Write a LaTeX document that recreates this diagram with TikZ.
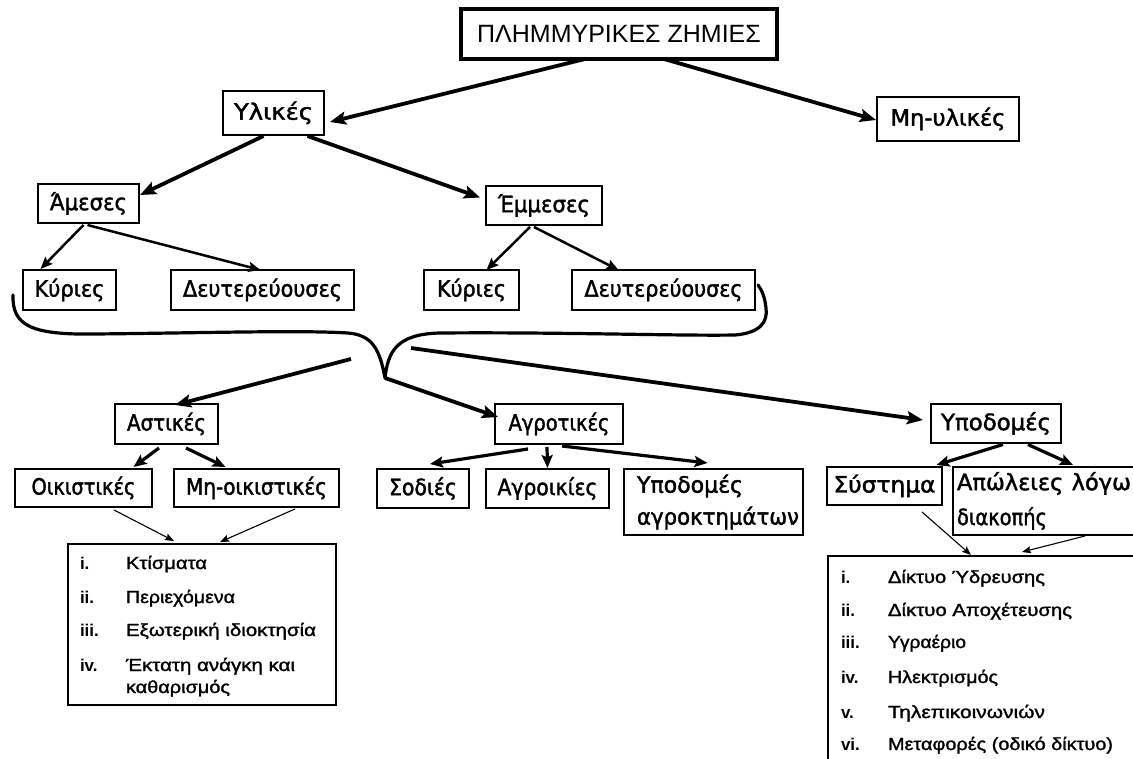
\documentclass[tikz,border=0pt]{standalone}
\usepackage{fontspec}
\usepackage{graphicx}
\setmainfont{Liberation Sans}
\newfontfamily\boxfont[RawFeature={embolden=1.6}]{DejaVu Sans Condensed}
\newfontfamily\listfont[RawFeature={embolden=1.4}]{Liberation Sans}
\usetikzlibrary{arrows.meta,calc}
% stretch a piece of text to a given width, keeping its height
\newcommand\fitw[2]{\resizebox{#1pt}{\height}{#2}}

\begin{document}
\begin{tikzpicture}[x=1pt,y=-1pt,
  every node/.style={inner sep=0pt, outer sep=0pt},
  box/.style={draw, line width=1.4pt, font=\boxfont\fontsize{22.5}{35}\selectfont},
  titlebox/.style={draw, line width=3.6pt, font=\fontsize{25}{30}\selectfont},
  bigarrow/.style={line width=3.8pt, -{Stealth[length=16pt,width=13pt,inset=3pt]}},
  secarrow/.style={line width=3.2pt, -{Stealth[length=13pt,width=11pt,inset=2.5pt]}},
  midarrow/.style={line width=2.5pt, -{Stealth[length=12pt,width=10pt,inset=2pt]}},
  thinarrow/.style={line width=1.1pt, -{Stealth[length=9pt,width=7pt,inset=1.5pt]}},
  bracket/.style={line width=3.2pt, line cap=round, line join=round},
  listbox/.style={draw, line width=1.4pt},
  itemlabel/.style={anchor=base west, font=\bfseries\fontsize{17}{20}\selectfont},
  itemtext/.style={anchor=base west, font=\listfont\fontsize{17.5}{22}\selectfont},
]
\useasboundingbox (0,0) rectangle (1133,759);
\fill[white] (0,0) rectangle (1133,759);
\clip (0,0) rectangle (1133,759);

% ---- hierarchy boxes ----
\node[titlebox, minimum width=316pt, minimum height=50pt] (title) at (619,34) {ΠΛΗΜΜΥΡΙΚΕΣ ΖΗΜΙΕΣ};
\node[box, minimum width=101pt, minimum height=44pt] (ylikes) at (273.5,113) {\fitw{79}{Υλικές}};
\node[box, minimum width=142pt, minimum height=44pt] (mhylikes) at (948,119) {\fitw{115}{Μη-υλικές}};

\node[box, minimum width=101pt, minimum height=39pt] (ames) at (88.5,203.5) {\fitw{77}{Άμεσες}};
\node[box, minimum width=116pt, minimum height=39pt] (emmeses) at (544,205.5) {\fitw{92}{Έμμεσες}};

\node[box, minimum width=93pt, minimum height=40pt] (kyr1) at (69.5,290) {\fitw{70}{Κύριες}};
\node[box, minimum width=183pt, minimum height=40pt] (deut1) at (262.5,290) {\fitw{159}{Δευτερεύουσες}};
\node[box, minimum width=95pt, minimum height=40pt] (kyr2) at (471.5,290) {\fitw{69}{Κύριες}};
\node[box, minimum width=183pt, minimum height=40pt] (deut2) at (663.5,290) {\fitw{158}{Δευτερεύουσες}};

\node[box, minimum width=103pt, minimum height=40pt] (astikes) at (166.5,424) {\fitw{79}{Αστικές}};
\node[box, minimum width=128pt, minimum height=40pt] (agrotikes) at (559,424) {\fitw{101}{Αγροτικές}};
\node[box, minimum width=130pt, minimum height=39pt] (ypodomes) at (996,423.5) {\fitw{110}{Υποδομές}};

\node[box, minimum width=137pt, minimum height=38pt] (oik) at (83.5,488) {\fitw{104}{Οικιστικές}};
\node[box, minimum width=165pt, minimum height=38pt] (mhoik) at (256.5,488) {\fitw{141}{Μη-οικιστικές}};
\node[box, minimum width=92pt, minimum height=39pt] (sodies) at (423,488.5) {\fitw{68}{Σοδιές}};
\node[box, minimum width=123pt, minimum height=39pt] (agroikies) at (547.5,488.5) {\fitw{100}{Αγροικίες}};
\node[box, minimum width=179pt, minimum height=66pt, inner xsep=13pt, text width=153pt, align=left] (ypagr) at (713.5,502) {\fitw{106}{Υποδομές}\\[-3pt]\fitw{162}{αγροκτημάτων}};

\node[box, minimum width=115pt, minimum height=38pt] (systima) at (884.5,486) {\raisebox{5pt}{\fitw{102}{Σύστημα}}};
\node[box, minimum width=197pt, minimum height=68pt, inner xsep=4pt, text width=189pt, align=left] (apoleies) at (1051.5,501) {\fitw{174}{Απώλειες λόγω}\\\fitw{90}{διακοπής}};

% ---- list boxes ----
\node[listbox, minimum width=268pt, minimum height=161pt] (leftlist) at (202,624.5) {};
\node[listbox, minimum width=322pt, minimum height=220pt] (rightlist) at (989,666) {};

\node[itemlabel] (la) at (80,569) {i.};
\node[itemtext]  (ta) at (126,569) {\fitw{81}{Κτίσματα}};
\node[itemlabel] (lb) at (80,603) {ii.};
\node[itemtext]  (tb) at (126,603) {\fitw{109}{Περιεχόμενα}};
\node[itemlabel] (lc) at (80,636) {iii.};
\node[itemtext]  (tc) at (126,636) {\fitw{190}{Εξωτερική ιδιοκτησία}};
\node[itemlabel] (ld) at (80,671) {iv.};
\node[itemtext]  (td) at (126,671) {\fitw{169}{Έκτατη ανάγκη και}};
\node[itemtext]  (tdd) at (126,693) {\fitw{104}{καθαρισμός}};

\node[itemlabel] (ra) at (841,583) {i.};
\node[itemtext]  (sa) at (888,583) {\fitw{157}{Δίκτυο Ύδρευσης}};
\node[itemlabel] (rb) at (841,616) {ii.};
\node[itemtext]  (sb) at (888,616) {\fitw{184}{Δίκτυο Αποχέτευσης}};
\node[itemlabel] (rc) at (841,648) {iii.};
\node[itemtext]  (sc) at (888,648) {\fitw{78}{Υγραέριο}};
\node[itemlabel] (rd) at (841,683) {iv.};
\node[itemtext]  (sd) at (888,683) {\fitw{110}{Ηλεκτρισμός}};
\node[itemlabel] (re) at (841,718) {v.};
\node[itemtext]  (se) at (888,718) {\fitw{157}{Τηλεπικοινωνιών}};
\node[itemlabel] (rf) at (841,750) {vi.};
\node[itemtext]  (sf) at (888,750) {\fitw{225}{Μεταφορές (οδικό δίκτυο)}};

% ---- upper connectors ----
\draw[bigarrow] ($(title.south)+(-34,0)$) -- ($(ylikes.east)+(6,9)$);
\draw[bigarrow] ($(title.south)+(45,0)$) -- ($(mhylikes.west)+(-1,1)$);
\draw[bigarrow] ($(ylikes.south)+(-10,1)$) -- ($(ames.north east)+(1,11)$);
\draw[bigarrow] ($(ylikes.south)+(34,1)$) -- ($(emmeses.west)+(-6,-8)$);

\draw[midarrow] ($(ames.south)+(-5,2)$) -- ($(kyr1.north)+(-29,-1)$);
\draw[midarrow] ($(ames.south)+(-1,2)$) -- ($(deut1.north)+(-2,0)$);
\draw[midarrow] ($(emmeses.south)+(-14,2)$) -- ($(kyr2.north)+(15,0)$);
\draw[midarrow] ($(emmeses.south)+(-10,2)$) -- ($(deut2.north)+(-45,0)$);

% ---- bracket joining the four groups ----
\coordinate (bl) at (13,295);
\coordinate (bracetip) at (385,378);
\coordinate (br) at (758,285);
\draw[bracket] (bl) .. controls (12,326) and (32,335) .. (95,334)
  .. controls (200,333) and (300,330) .. (348,333)
  .. controls (374,335) and (380,352) .. (bracetip)
  .. controls (388,352) and (396,334) .. (440,333)
  .. controls (560,332) and (680,336) .. (735,335)
  .. controls (760,333) and (768,322) .. (766,308)
  .. controls (765,298) and (762,290) .. (br);

% ---- connectors to the categories ----
\coordinate (astart) at (351,359);
\coordinate (ustart) at (411,348);
\draw[bigarrow] (astart) -- ($(astikes.north)+(8.5,1)$);
\draw[bigarrow] (bracetip) -- ($(agrotikes.west)+(3,-7)$);
\draw[bigarrow] (ustart) -- ($(ypodomes.west)+(-8,-3.5)$);

\draw[secarrow] ($(astikes.south)+(-7.5,4)$) -- ($(oik.north)+(50,-2)$);
\draw[secarrow] ($(astikes.south)+(19.5,4)$) -- ($(mhoik.north)+(-31,-2)$);
\draw[secarrow] ($(agrotikes.south)+(-31,5)$) -- ($(sodies.north)+(7,-5)$);
\draw[secarrow] ($(agrotikes.south)+(-12,3)$) -- ($(agroikies.north)+(0,-1)$);
\draw[secarrow] ($(agrotikes.south)+(3,2)$) -- ($(ypagr.north)+(-6,-6)$);
\draw[secarrow] ($(ypodomes.south)+(7,1.5)$) -- ($(systima.north)+(52,-2)$);
\draw[secarrow] ($(ypodomes.south)+(32,1.5)$) -- ($(apoleies.north)+(21.5,-2)$);

% ---- thin connectors to the item lists ----
\draw[thinarrow] ($(oik.south)+(30.5,3)$) -- ($(leftlist.north)+(-28,-3)$);
\draw[thinarrow] ($(mhoik.south)+(38.5,2)$) -- ($(leftlist.north)+(18,-2)$);
\draw[thinarrow] ($(systima.south)+(37.5,7)$) -- ($(rightlist.north)+(-18,-1)$);
\draw[thinarrow] ($(apoleies.south)+(33.5,1)$) -- ($(rightlist.north)+(33,-4)$);
\end{tikzpicture}
\end{document}
